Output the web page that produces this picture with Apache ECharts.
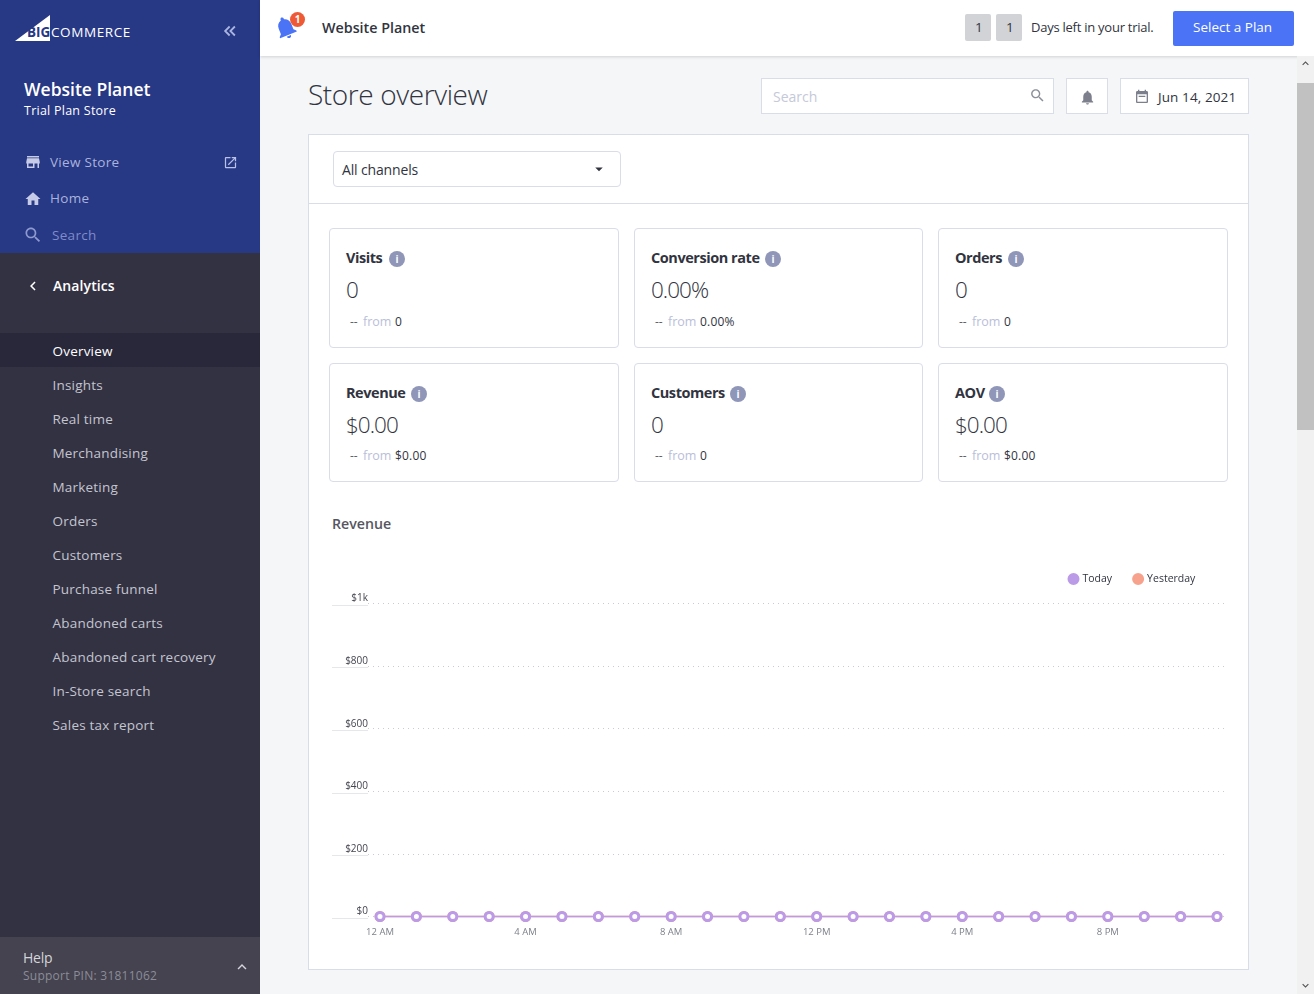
<!DOCTYPE html>
<html>
<head>
<meta charset="utf-8">
<title>Store overview</title>
<script src="https://cdn.jsdelivr.net/npm/echarts@6/dist/echarts.min.js"></script>
<style>
html, body { margin: 0; padding: 0; width: 1314px; height: 994px; overflow: hidden; background: #f5f6f8; font-family: "Open Sans", "Noto Sans", sans-serif; color: #313440; }
.a { position: absolute; white-space: nowrap; }
svg { position: absolute; display: block; }
.card { position: absolute; box-sizing: border-box; background: #fff; border: 1px solid #d9dce9; border-radius: 4px; }
.btn { position: absolute; box-sizing: border-box; background: #fff; border: 1px solid #d9dce9; }
#chart { position: absolute; left: 320px; top: 560px; width: 920px; height: 390px; }
</style>
</head>
<body>
<div id="page"></div>
<div id="chart"></div>
<script>
var hourLabels = ['12 AM','1 AM','2 AM','3 AM','4 AM','5 AM','6 AM','7 AM','8 AM','9 AM','10 AM','11 AM',
	'12 PM','1 PM','2 PM','3 PM','4 PM','5 PM','6 PM','7 PM','8 PM','9 PM','10 PM','11 PM'];
var todayValues = [0,0,0,0,0,0,0,0,0,0,0,0,0,0,0,0,0,0,0,0,0,0,0,0];
var yesterdayValues = [0,0,0,0,0,0,0,0,0,0,0,0,0,0,0,0,0,0,0,0,0,0,0,0];
var yTickLabels = ['$0','$200','$400','$600','$800','$1k'];
var navItems = ['Overview','Insights','Real time','Merchandising','Marketing','Orders','Customers',
	'Purchase funnel','Abandoned carts','Abandoned cart recovery','In-Store search','Sales tax report'];
var cardNames = ['Visits','Conversion rate','Orders','Revenue','Customers','AOV'];
var cardValues = ['0','0.00%','0','$0.00','0','$0.00'];
var cardPrevious = ['0','0.00%','0','$0.00','0','$0.00'];

var ICON = {
	store : 'M20 4H4v2h16V4zm1 10v-2l-1-5H4l-1 5v2h1v6h10v-6h4v6h2v-6h1zm-9 4H6v-4h6v4z',
	home : 'M10 20v-6h4v6h5v-8h3L12 3 2 12h3v8z',
	search : 'M15.5 14h-.79l-.28-.27C15.41 12.59 16 11.11 16 9.5 16 5.91 13.09 3 9.5 3S3 5.91 3 9.5 5.91 16 9.5 16c1.61 0 3.09-.59 4.23-1.57l.27.28v.79l5 4.99L20.49 19l-4.99-5zm-6 0C7.01 14 5 11.99 5 9.5S7.01 5 9.5 5 14 7.01 14 9.5 11.99 14 9.5 14z',
	open : 'M19 19H5V5h7V3H5c-1.11 0-2 .9-2 2v14c0 1.1.89 2 2 2h14c1.1 0 2-.9 2-2v-7h-2v7zM14 3v2h3.59l-9.83 9.83 1.41 1.41L19 6.41V10h2V3h-7z',
	bell : 'M12 22c1.1 0 2-.9 2-2h-4c0 1.1.89 2 2 2zm6-6v-5c0-3.07-1.64-5.64-4.5-6.32V4c0-.83-.67-1.5-1.5-1.5s-1.5.67-1.5 1.5v.68C7.63 5.36 6 7.92 6 11v5l-2 2v1h16v-1l-2-2z',
	cal : 'M19 3h-1V1h-2v2H8V1H6v2H5c-1.11 0-2 .9-2 2v14c0 1.1.89 2 2 2h14c1.1 0 2-.9 2-2V5c0-1.1-.9-2-2-2zm0 16H5V8h14v11zM7 10h10v2H7z',
	left : 'M15.41 7.41L14 6l-6 6 6 6 1.41-1.41L10.83 12z',
	up : 'M7.41 15.41L12 10.83l4.59 4.58L18 14l-6-6-6 6z',
	down : 'M7 10l5 5 5-5z',
	dleft : 'M11.5 6L5.5 12l6 6M18.5 6l-6 6 6 6'
};

var html = [];
function box(x, y, w, h, style) {
	html.push('<div class="a" style="left:' + x + 'px;top:' + y + 'px;width:' + w + 'px;height:' + h + 'px;' + (style || '') + '"></div>');
}
// y is the vertical middle of the text
function text(x, y, str, size, color, extra) {
	html.push('<div class="a" style="left:' + x + 'px;top:' + (y - 20) + 'px;line-height:40px;font-size:' + size + 'px;color:' + color + ';' + (extra || '') + '">' + str + '</div>');
}
function icon(name, x, y, size, color, extra) {
	html.push('<svg style="left:' + x + 'px;top:' + y + 'px;' + (extra || '') + '" width="' + size + '" height="' + size + '" viewBox="0 0 24 24"><path d="' + ICON[name] + '" fill="' + color + '"/></svg>');
}

// sidebar
box(0, 0, 260, 253, 'background:#273885');
box(0, 253, 260, 684, 'background:#333243');
box(0, 333, 260, 34, 'background:#29283a');
box(0, 937, 260, 57, 'background:#44434f');
html.push('<svg style="left:15px;top:15px" width="35" height="26" viewBox="0 0 35 26"><path d="M0 26L35 0V26z" fill="#fff"/></svg>');
text(27, 32, 'BIG', 13.5, '#273885', 'font-weight:700');
text(51, 32, 'COMMERCE', 13.5, '#fff', 'font-weight:500;letter-spacing:.6px');
html.push('<svg style="left:221px;top:22px" width="18" height="18" viewBox="0 0 24 24"><path d="' + ICON.dleft + '" fill="none" stroke="#a9b4e0" stroke-width="2.4"/></svg>');
text(24, 88.5, 'Website Planet', 17.5, '#fff', 'font-weight:600');
text(24, 111, 'Trial Plan Store', 12.5, '#fff', 'letter-spacing:.25px');
icon('store', 24, 153, 18, '#c6cce8');
text(50, 162, 'View Store', 13.5, '#aab3dc', 'letter-spacing:.3px');
icon('open', 223, 155, 15, '#b9c1e6');
icon('home', 24, 190, 18, '#c6cce8');
text(50, 198, 'Home', 13.5, '#aab3dc', 'letter-spacing:.3px');
icon('search', 23, 225, 20, '#8d99cf');
text(52, 235, 'Search', 13.5, '#7f8cc9', 'letter-spacing:.3px');
icon('left', 24, 277, 18, '#fff');
text(53, 286, 'Analytics', 14, '#fff', 'font-weight:600;letter-spacing:.1px');
for (var i = 0; i < navItems.length; i++) {
	text(52.5, 351 + i * 34, navItems[i], 13.5, i == 0 ? '#fff' : '#c4c5cf', 'letter-spacing:.2px');
}
text(23, 958, 'Help', 14, '#d5d5db', 'letter-spacing:-.2px');
text(23, 976, 'Support PIN: 31811062', 12, '#8c8c98', 'letter-spacing:.25px');
icon('up', 233, 958, 18, '#d5d5db');

// header
box(260, 0, 1054, 56, 'background:#fff;box-shadow:0 1px 3px rgba(0,0,0,.15)');
icon('bell', 272, 14, 27, '#4a73f6', 'transform:rotate(-22deg)');
html.push('<div class="a" style="left:290px;top:12px;width:15px;height:15px;border-radius:8px;background:#ee5a36;color:#fff;font-size:10px;font-weight:700;line-height:15px;text-align:center">1</div>');
text(322, 27.5, 'Website Planet', 14.3, '#313440', 'font-weight:600');
box(965, 14, 26, 27, 'background:#d1d3d6;border-radius:2px');
box(996, 14, 26, 27, 'background:#d1d3d6;border-radius:2px');
text(975, 27, '1', 13.5, '#313440');
text(1006, 27, '1', 13.5, '#313440');
text(1031, 27, 'Days left in your trial.', 13, '#313440', 'letter-spacing:-.25px');
box(1173, 11, 121, 35, 'background:#4a73f6;border-radius:2px');
text(1193, 27, 'Select a Plan', 13.5, '#fff');

// title row
text(308, 93.5, 'Store overview', 28, '#313440', 'font-weight:300;letter-spacing:-.4px');
html.push('<div class="btn" style="left:761px;top:78px;width:293px;height:36px"></div>');
text(773, 97, 'Search', 14, '#c5c9d8');
icon('search', 1029, 87, 17, '#8c8f9a');
html.push('<div class="btn" style="left:1066px;top:78px;width:42px;height:36px"></div>');
icon('bell', 1079, 89, 17, '#7d808c');
html.push('<div class="btn" style="left:1120px;top:78px;width:129px;height:36px"></div>');
icon('cal', 1134, 89, 16, '#7d808c');
text(1158, 97, 'Jun 14, 2021', 13.5, '#313440', 'letter-spacing:.1px');

// main panel
html.push('<div class="btn" style="left:308px;top:134px;width:941px;height:836px"></div>');
box(309, 203, 939, 1, 'background:#d9dce9');
html.push('<div class="card" style="left:333px;top:151px;width:288px;height:36px"></div>');
text(342, 170, 'All channels', 14, '#313440', 'letter-spacing:-.15px');
icon('down', 590, 160, 18, '#313440');

// stat cards
var cardX = [329, 634, 938], cardW = [290, 289, 290], cardY = [228, 363], cardH = [120, 119];
var cardTitleW = [38, 109, 48, 60, 74, 29];
for (var c = 0; c < 6; c++) {
	var cx = cardX[c % 3], row = c < 3 ? 0 : 1, cy = cardY[row], fromY = cy + (row == 0 ? 93.5 : 93);
	html.push('<div class="card" style="left:' + cx + 'px;top:' + cy + 'px;width:' + cardW[c % 3] + 'px;height:' + cardH[row] + 'px"></div>');
	text(cx + 17, cy + 30, cardNames[c], 14.5, '#313440', 'font-weight:700;letter-spacing:-.45px');
	var ix = cx + 17 + cardTitleW[c] + 5;
	html.push('<div class="a" style="left:' + ix + 'px;top:' + (cy + 23) + 'px;width:16px;height:16px;border-radius:8px;background:#8f96b8;color:#fff;font-size:10px;font-weight:700;line-height:16px;text-align:center">i</div>');
	text(cx + 17, cy + 62, cardValues[c], 22.5, '#313440', 'font-weight:300;letter-spacing:-1px');
	text(cx + 21, fromY, '--', 12, '#5c5f6b');
	text(cx + 34, fromY, 'from', 12.5, '#b9c0d9');
	text(cx + 66, fromY, cardPrevious[c], 12, '#313440', 'letter-spacing:.2px');
}
text(332, 524, 'Revenue', 14.2, '#55565f', 'font-weight:600');

// scrollbar
box(1297, 56, 17, 938, 'background:#f1f1f1');
box(1297, 83, 17, 347, 'background:#c1c1c1');
icon('up', 1299, 57, 13, '#505050');
icon('up', 1299, 979, 13, '#505050', 'transform:rotate(180deg)');

document.getElementById('page').innerHTML = html.join('');

var RevenueChart = echarts.init(document.getElementById('chart'));
var font = '"Open Sans", "Noto Sans", sans-serif';
var plotTop = 43.5, plotHeight = 313;

var option = {
	animation : false,
	legend : {
		left : 742.5,
		top : 8,
		itemWidth : 10,
		itemHeight : 10,
		itemGap : 20,
		icon : 'circle',
		data : [
			{ name : 'Today', itemStyle : { color : '#bb9ae8' } },
			{ name : 'Yesterday', itemStyle : { color : '#f6a28c' } }
		],
		textStyle : { fontFamily : font, fontSize : 10.5, color : '#313440', padding : [ 0, 0, 0, -1 ] }
	},
	grid : [
		{ left : 48, width : 858, top : plotTop, height : plotHeight },
		{ left : 60, width : 837, top : plotTop, height : plotHeight },
		{ left : 48, width : 858, top : plotTop + 1.5, height : plotHeight }
	],
	xAxis : [
		{ gridIndex : 0, type : 'value', show : false },
		{
			gridIndex : 1,
			type : 'category',
			boundaryGap : false,
			data : hourLabels,
			axisLine : { show : false },
			axisTick : { show : false },
			axisLabel : { interval : 3, margin : 11, fontFamily : font, fontSize : 9.5, color : '#7e808a' }
		},
		{ gridIndex : 2, type : 'value', show : false }
	],
	yAxis : [
		{
			gridIndex : 0,
			type : 'value',
			min : 0,
			max : 1000,
			interval : 200,
			axisLine : { show : false },
			axisTick : { show : false },
			splitLine : { lineStyle : { type : [ 1, 4 ], color : '#c9cbd1', width : 1 } },
			axisLabel : {
				margin : 0,
				verticalAlign : 'bottom',
				fontFamily : font,
				fontSize : 10,
				color : '#44454f',
				formatter : function(v) {
					return yTickLabels[v / 200];
				}
			}
		},
		{ gridIndex : 1, type : 'value', min : 0, max : 1000, show : false },
		{
			gridIndex : 2,
			type : 'value',
			min : 0,
			max : 1000,
			interval : 200,
			axisLine : { show : false },
			axisTick : { length : 36, lineStyle : { color : '#e6e7ea' } },
			axisLabel : { show : false },
			splitLine : { show : false }
		}
	],
	series : [
		{
			name : 'Yesterday',
			type : 'line',
			xAxisIndex : 1,
			yAxisIndex : 1,
			data : yesterdayValues,
			symbol : 'circle',
			symbolSize : 8,
			clip : false,
			z : 2,
			itemStyle : { color : '#fff', borderColor : '#f6a28c', borderWidth : 3 },
			lineStyle : { color : '#f6a28c', width : 1.5 }
		},
		{
			name : 'Today',
			type : 'line',
			xAxisIndex : 1,
			yAxisIndex : 1,
			data : todayValues,
			symbol : 'circle',
			symbolSize : 8,
			clip : false,
			z : 3,
			itemStyle : { color : '#fff', borderColor : '#bb9ae8', borderWidth : 3 },
			lineStyle : { color : '#bb9ae8', width : 1.5 }
		}
	]
};
RevenueChart.setOption(option);
</script>
</body>
</html>
